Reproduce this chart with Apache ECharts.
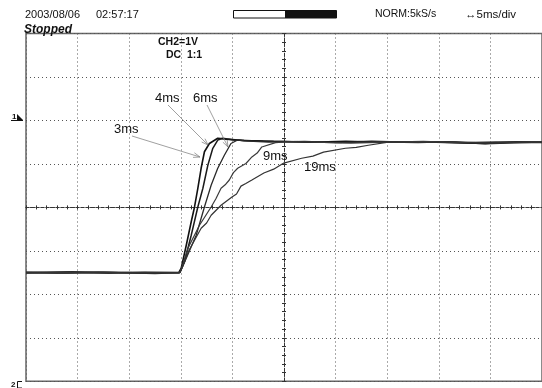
<!DOCTYPE html>
<html><head><meta charset="utf-8">
<script src="https://cdn.jsdelivr.net/npm/echarts@6/dist/echarts.min.js"></script>
<style>html,body{margin:0;padding:0;background:#fff}#c{width:542px;height:388px}</style>
</head><body><div id="c"></div>
<script>
// time in ms relative to screen centre (5 ms/div), voltage in V (1 V/div)
const seriesNames = ['3ms', '4ms', '6ms', '9ms', '19ms'];

const t3ms = [-25, -21, -17, -13.5, -10.2, -9.96, -9.47, -8.99, -8.67, -8.35, -8.03, -7.71, -7.23, -6.42, -5.62, -3.88, -1, 2.5, 6, 9.5, 13, 16.5, 19.5, 22.5, 25];
const v3ms = [-1.50, -1.49, -1.51, -1.49, -1.50, -1.40, -0.87, -0.33, 0.01, 0.44, 0.90, 1.28, 1.47, 1.59, 1.57, 1.54, 1.52, 1.50, 1.52, 1.50, 1.51, 1.49, 1.47, 1.51, 1.50];

const t4ms = [-25, -22, -18, -14, -10.1, -9.64, -8.99, -8.35, -7.86, -7.38, -6.90, -6.42, -5.94, -4.85, -2, 1.5, 5, 8.5, 12, 15.5, 19, 22, 25];
const v4ms = [-1.49, -1.51, -1.50, -1.51, -1.50, -1.25, -0.64, 0.01, 0.44, 0.97, 1.36, 1.55, 1.59, 1.55, 1.52, 1.51, 1.49, 1.52, 1.50, 1.50, 1.48, 1.50, 1.49];

const t6ms = [-25, -20.5, -16, -12.5, -10.1, -9.47, -8.51, -7.71, -7.06, -6.42, -5.78, -5.14, -4.49, -3.88, -1.5, 2, 5.5, 9, 12.5, 16, 19.5, 23, 25];
const v6ms = [-1.50, -1.48, -1.50, -1.52, -1.50, -1.17, -0.64, 0.01, 0.51, 0.90, 1.20, 1.47, 1.55, 1.53, 1.50, 1.52, 1.49, 1.51, 1.50, 1.51, 1.46, 1.49, 1.50];

const t9ms = [-25, -21.5, -18, -14.5, -10.1, -9.8, -9.31, -8.19, -7.06, -6.60, -6.10, -5.70, -5.30, -4.90, -4.49, -3.69, -3.11, -2.60, -2.15, -0.82, 0.46, 3, 6.5, 10, 13.5, 17, 20.5, 25];
const v9ms = [-1.51, -1.50, -1.49, -1.50, -1.50, -1.30, -0.94, -0.41, 0.01, 0.20, 0.44, 0.52, 0.63, 0.80, 0.90, 1.01, 1.16, 1.25, 1.39, 1.49, 1.51, 1.50, 1.48, 1.50, 1.52, 1.49, 1.51, 1.50];

const t19ms = [-25, -21, -17.5, -13, -10.1, -9.96, -9.19, -8.03, -7.50, -7.06, -6.10, -5.04, -4.60, -4.17, -3.70, -3.11, -1.95, -1.00, -0.02, 1.71, 2.80, 3.83, 5.95, 7.00, 8.17, 10.10, 13, 16.5, 20, 23, 25];
const v19ms = [-1.50, -1.51, -1.49, -1.50, -1.50, -1.44, -0.98, -0.48, -0.36, -0.18, 0.05, 0.24, 0.31, 0.49, 0.55, 0.63, 0.79, 0.88, 1.02, 1.13, 1.18, 1.27, 1.36, 1.38, 1.43, 1.50, 1.49, 1.51, 1.48, 1.50, 1.51];

const times = [t3ms, t4ms, t6ms, t9ms, t19ms];
const values = [v3ms, v4ms, v6ms, v9ms, v19ms];
const lineColors = ['#111', '#1a1a1a', '#2a2a2a', '#3a3a3a', '#333'];
const lineWidths = [1.6, 1.5, 1.3, 1.2, 1.2];

const FONT = '"Liberation Sans", Arial, sans-serif';
const chart = echarts.init(document.getElementById('c'), null, {renderer: 'canvas'});

const centreAxisX = (pos, withGrid) => ({
  type: 'value', min: -25, max: 25, interval: 5, position: pos,
  axisLine: {show: true, onZero: true, lineStyle: {color: '#333', width: 1, type: [3, 2]}},
  axisTick: {show: true, inside: false, length: 2, lineStyle: {color: '#333'}},
  minorTick: {show: true, splitNumber: 5, length: 2, lineStyle: {color: '#333'}},
  axisLabel: {show: false},
  splitLine: {show: withGrid, lineStyle: {color: '#555', width: 1, type: [1, 3]}}
});
const centreAxisY = (pos, withGrid) => ({
  type: 'value', min: -4, max: 4, interval: 1, position: pos,
  axisLine: {show: true, onZero: true, lineStyle: {color: '#333', width: 1, type: [3, 2]}},
  axisTick: {show: true, inside: false, length: 2, lineStyle: {color: '#333'}},
  minorTick: {show: true, splitNumber: 5, length: 2, lineStyle: {color: '#333'}},
  axisLabel: {show: false},
  splitLine: {show: withGrid, lineStyle: {color: '#555', width: 1, type: [1, 3]}}
});

function textEl(x, y, text, size, extra) {
  return Object.assign({
    type: 'text', silent: true, z: 100,
    style: {x: x, y: y, text: text, fill: '#111', font: size + 'px ' + FONT, textAlign: 'left', textVerticalAlign: 'middle'}
  }, extra || {});
}
function poly(points, color, width) {
  return {type: 'polyline', silent: true, z: 100, shape: {points: points}, style: {stroke: color, lineWidth: width, fill: null}};
}

const graphics = [
  textEl(25, 14.5, '2003/08/06', 11),
  textEl(96, 14.5, '02:57:17', 11),
  {type: 'text', silent: true, z: 100, style: {x: 24, y: 29.5, text: 'Stopped', fill: '#111', font: 'italic bold 12px ' + FONT, textVerticalAlign: 'middle'}},
  {type: 'rect', silent: true, z: 100, shape: {x: 233.5, y: 10.5, width: 103, height: 7.5}, style: {fill: '#fff', stroke: '#111', lineWidth: 1}},
  {type: 'rect', silent: true, z: 101, shape: {x: 285, y: 10.5, width: 51.5, height: 7.5}, style: {fill: '#111'}},
  textEl(375, 14.5, 'NORM:5kS/s', 10.5),
  textEl(465, 14.5, '\u21945ms/div', 11.5),
  {type: 'text', silent: true, z: 100, style: {x: 158, y: 41.7, text: 'CH2=1V', fill: '#111', font: 'bold 10.5px ' + FONT, textVerticalAlign: 'middle'}},
  {type: 'text', silent: true, z: 100, style: {x: 166, y: 55, text: 'DC  1:1', fill: '#111', font: 'bold 10.5px ' + FONT, textVerticalAlign: 'middle'}},
  textEl(114, 129, '3ms', 13),
  textEl(155, 98, '4ms', 13),
  textEl(193, 98, '6ms', 13),
  textEl(263, 156, '9ms', 13),
  textEl(304, 167.5, '19ms', 13),
  poly([[132, 136], [200, 157]], '#888', 0.8),
  poly([[194.4, 152.8], [200, 157], [193, 157.4]], '#888', 0.8),
  poly([[168, 105], [208, 145]], '#888', 0.8),
  poly([[205, 138.7], [208, 145], [201.7, 142]], '#888', 0.8),
  poly([[207, 105], [228, 147]], '#888', 0.8),
  poly([[227.2, 140], [228, 147], [222.9, 142.2]], '#888', 0.8),
  // channel markers
  {type: 'text', silent: true, z: 100, style: {x: 12, y: 116.5, text: '1', fill: '#111', font: 'bold 8px ' + FONT, textVerticalAlign: 'middle'}},
  {type: 'polygon', silent: true, z: 100, shape: {points: [[17, 114], [23, 120], [17, 120]]}, style: {fill: '#111'}},
  poly([[11, 120.5], [23, 120.5]], '#111', 1),
  {type: 'text', silent: true, z: 100, style: {x: 11, y: 384.5, text: '2', fill: '#111', font: 'bold 8px ' + FONT, textVerticalAlign: 'middle'}},
  poly([[22, 381.5], [17.5, 381.5], [17.5, 388], [22, 388]], '#111', 1)
];

chart.setOption({
  animation: false,
  backgroundColor: '#fff',
  grid: {left: 26, top: 33.5, width: 518.5, height: 347.8, show: true, borderColor: '#666', borderWidth: 1.5, backgroundColor: '#fff'},
  xAxis: [centreAxisX('bottom', true), centreAxisX('top', false)],
  yAxis: [centreAxisY('left', true), centreAxisY('right', false)],
  graphic: graphics,
  series: seriesNames.map((name, i) => ({
    name: name, type: 'line', showSymbol: false, smooth: false, z: 5,
    data: times[i].map((t, k) => [t, values[i][k]]),
    lineStyle: {color: lineColors[i], width: lineWidths[i]}
  }))
});
</script></body></html>
